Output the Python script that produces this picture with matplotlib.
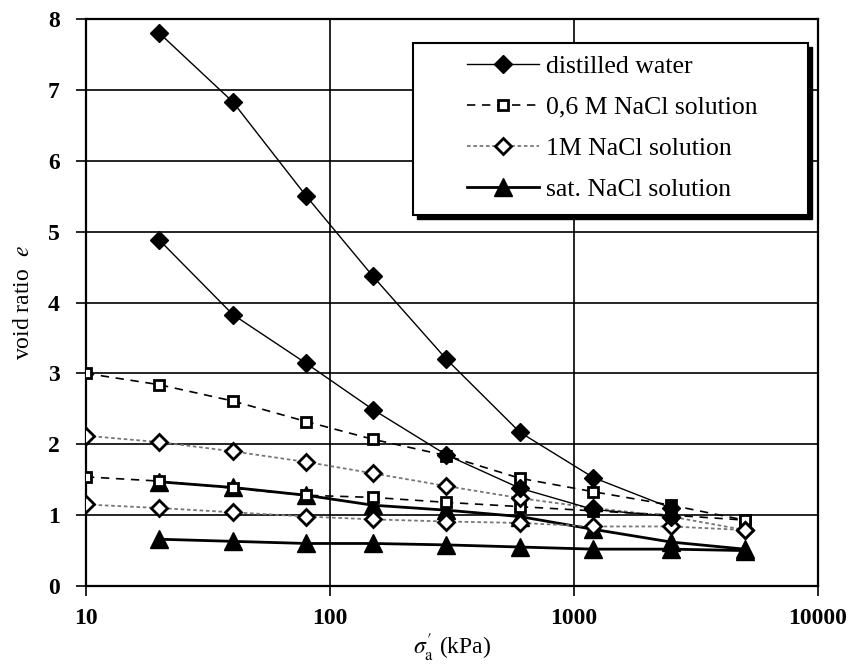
import matplotlib
matplotlib.use("Agg")
import matplotlib.pyplot as plt
from matplotlib.ticker import FixedLocator, NullLocator
from matplotlib.patches import Rectangle

plt.rcParams['font.family'] = ['Liberation Serif', 'DejaVu Serif']
plt.rcParams['mathtext.fontset'] = 'stix'

# stress levels (kPa)
p_dw = [20, 40, 80, 150, 300, 600, 1200, 2500]
p_full = [10, 20, 40, 80, 150, 300, 600, 1200, 2500, 5000]
p_sat = [20, 40, 80, 150, 300, 600, 1200, 2500, 5000]

# void ratios
dw_hi = [7.80, 6.83, 5.50, 4.37, 3.20, 2.17, 1.53, 1.10]
dw_lo = [4.88, 3.83, 3.14, 2.49, 1.85, 1.38, 1.08, 0.98]
m06_hi = [3.00, 2.84, 2.61, 2.32, 2.07, 1.84, 1.52, 1.33, 1.14, 0.93]
m06_lo = [1.54, 1.48, 1.38, 1.28, 1.25, 1.18, 1.12, 1.06, 1.00, 0.93]
m1_hi = [2.12, 2.03, 1.90, 1.75, 1.59, 1.41, 1.24, 1.10, 0.98, 0.79]
m1_lo = [1.15, 1.10, 1.04, 0.98, 0.94, 0.91, 0.89, 0.84, 0.84, 0.79]
sat_hi = [1.47, 1.39, 1.28, 1.14, 1.07, 0.98, 0.80, 0.62, 0.52]
sat_lo = [0.66, 0.63, 0.60, 0.60, 0.58, 0.55, 0.52, 0.52, 0.50]

labels = ["distilled water", "0,6 M NaCl solution", "1M NaCl solution", "sat. NaCl solution"]
x_ticks = [10, 100, 1000, 10000]
x_ticklabels = ["10", "100", "1000", "10000"]
y_ticks = [0, 1, 2, 3, 4, 5, 6, 7, 8]

fig = plt.figure(figsize=(8.57, 6.65), dpi=100)
ax = fig.add_axes([0.1003, 0.1188, 0.8542, 0.8526])

dw_style = dict(color='black', lw=1.0, ls='-', marker='D', ms=9, mfc='black', mec='black')
m06_style = dict(color='black', lw=1.2, ls=(0, (5, 4)), marker='s', ms=7, mfc='white', mec='black', mew=2)
m1_style = dict(color='#777777', lw=1.3, ls=(0, (2, 1.5)), marker='D', ms=8, mfc='white', mec='black', mew=2)
sat_style = dict(color='black', lw=2.0, ls='-', marker='^', ms=13, mfc='black', mec='black')

h1, = ax.plot(p_dw, dw_hi, **dw_style, label=labels[0], zorder=5)
ax.plot(p_dw, dw_lo, **dw_style, zorder=5)
h2, = ax.plot(p_full, m06_hi, **m06_style, label=labels[1], zorder=4)
ax.plot(p_full, m06_lo, **m06_style, zorder=4)
h3, = ax.plot(p_full, m1_hi, **m1_style, label=labels[2], zorder=4)
ax.plot(p_full, m1_lo, **m1_style, zorder=4)
h4, = ax.plot(p_sat, sat_hi, **sat_style, label=labels[3], zorder=3)
ax.plot(p_sat, sat_lo, **sat_style, zorder=3)

ax.set_xscale('log')
ax.set_xlim(10, 10000)
ax.set_ylim(0, 8)
ax.xaxis.set_major_locator(FixedLocator(x_ticks))
ax.xaxis.set_minor_locator(NullLocator())
ax.set_xticklabels(x_ticklabels)
ax.set_yticks(y_ticks)
ax.grid(True, which='major', color='black', lw=1.2)
ax.set_axisbelow(True)
for s in ax.spines.values():
    s.set_linewidth(1.6)
    s.set_color('black')
ax.tick_params(axis='x', which='major', direction='out', length=7, width=1.2,
               labelsize=17, pad=9)
ax.tick_params(axis='y', which='major', direction='out', length=7, width=1.2,
               labelsize=17, pad=12)
for t in ax.get_xticklabels() + ax.get_yticklabels():
    t.set_fontweight('bold')

ax.set_xlabel(r"$\sigma^{\prime}_{\mathrm{a}}$ (kPa)", fontsize=17, labelpad=2)
ax.set_ylabel(r"void ratio  $e$", fontsize=17, labelpad=10)

# legend frame with drop shadow
fx0, fy0, fw, fh = 0.4467, 0.6543, 0.5396, 0.3034
ax.add_patch(Rectangle((fx0 + 0.0055, fy0 - 0.0075), fw, fh, transform=ax.transAxes,
                       facecolor='black', edgecolor='black', zorder=9, clip_on=False))
ax.add_patch(Rectangle((fx0, fy0), fw, fh, transform=ax.transAxes,
                       facecolor='white', edgecolor='black', lw=1.5, zorder=9.5, clip_on=False))

leg = ax.legend(handles=[h1, h2, h3, h4], loc='center left', bbox_to_anchor=(0.5205, 0.808),
                frameon=False, fontsize=18.5, handlelength=2.8, handletextpad=0.27,
                borderpad=0, labelspacing=0.7, borderaxespad=0)
leg.set_zorder(10)

fig.savefig("out.png", dpi=100)
